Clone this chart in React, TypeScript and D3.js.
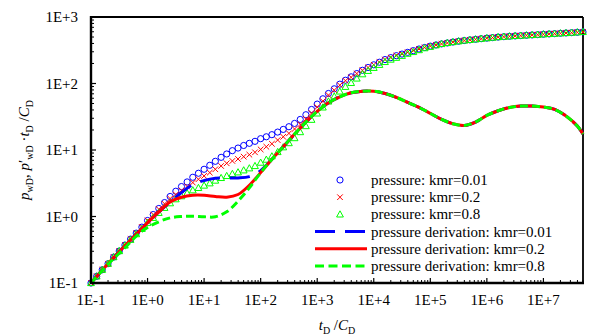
import React from "react";
import * as d3 from "d3";

// ---------- data ----------
const times = [
  0.1, 0.126, 0.158, 0.2, 0.251, 0.316, 0.398, 0.501, 0.631, 0.794,
  1, 1.26, 1.58, 2, 2.51, 3.16, 3.98, 5.01, 6.31, 7.94,
  10, 12.6, 15.8, 20, 25.1, 31.6, 39.8, 50.1, 63.1, 79.4,
  100, 126, 158, 200, 251, 316, 398, 501, 631, 794,
  1000, 1260, 1580, 2000, 2510, 3160, 3980, 5010, 6310, 7940,
  1e4, 1.26e4, 1.58e4, 2e4, 2.51e4, 3.16e4, 3.98e4, 5.01e4, 6.31e4, 7.94e4,
  1e5, 1.26e5, 1.58e5, 2e5, 2.51e5, 3.16e5, 3.98e5, 5.01e5, 6.31e5, 7.94e5,
  1e6, 1.26e6, 1.58e6, 2e6, 2.51e6, 3.16e6, 3.98e6, 5.01e6, 6.31e6, 7.94e6,
  1e7, 1.26e7, 1.58e7, 2e7, 2.51e7, 3.16e7, 3.98e7, 5.01e7,
];

const pressureKmr001 = [
  0.1, 0.126, 0.158, 0.195, 0.245, 0.302, 0.372, 0.457, 0.562, 0.692,
  0.871, 1.07, 1.32, 1.62, 2.0, 2.4, 2.82, 3.31, 3.89, 4.47,
  5.13, 5.89, 6.76, 7.76, 8.71, 9.77, 10.7, 11.7, 12.6, 13.5,
  14.8, 15.8, 17.0, 18.6, 20.4, 22.4, 25.1, 28.8, 33.9, 40.7,
  49.0, 58.9, 70.8, 83.2, 97.7, 112, 126, 141, 158, 174,
  191, 209, 229, 245, 262, 277, 294, 312, 330, 348,
  365, 380, 394, 407, 420, 432, 443, 453, 462, 472,
  481, 490, 499, 506, 513, 519, 525, 531, 537, 543,
  550, 556, 562, 569, 575, 582, 589, 596,
];

const pressureKmr02 = [
  0.1, 0.126, 0.158, 0.195, 0.245, 0.302, 0.372, 0.457, 0.562, 0.692,
  0.871, 1.07, 1.29, 1.55, 1.86, 2.14, 2.45, 2.82, 3.24, 3.63,
  4.07, 4.57, 5.13, 5.75, 6.31, 6.84, 7.33, 7.94, 8.51, 9.23,
  10.2, 11.2, 12.4, 14.1, 15.8, 17.8, 20.7, 24.3, 29.2, 35.9,
  44.2, 54.3, 66.8, 79.4, 94.4, 110, 124, 141, 158, 174,
  191, 209, 229, 245, 262, 277, 294, 312, 330, 348,
  365, 380, 394, 407, 420, 432, 443, 453, 462, 472,
  481, 490, 499, 506, 513, 519, 525, 531, 537, 543,
  550, 556, 562, 569, 575, 582, 589, 596,
];

const pressureKmr08 = [
  0.1, 0.126, 0.158, 0.195, 0.245, 0.302, 0.367, 0.447, 0.543, 0.653,
  0.804, 0.955, 1.135, 1.35, 1.585, 1.82, 2.02, 2.24, 2.48, 2.69,
  2.92, 3.16, 3.47, 3.80, 4.07, 4.37, 4.62, 4.95, 5.31, 5.75,
  6.46, 7.16, 8.04, 9.33, 11.0, 12.7, 15.1, 18.6, 22.9, 28.5,
  35.5, 43.7, 53.7, 63.8, 75.9, 89.1, 102, 119, 138, 155,
  172, 191, 211, 229, 244, 261, 281, 298, 318, 340,
  356, 376, 394, 407, 420, 432, 443, 453, 462, 472,
  481, 490, 499, 506, 513, 519, 525, 531, 537, 543,
  550, 556, 562, 569, 575, 582, 589, 596,
];

const derivTimes = [
  0.1, 0.2, 0.398, 0.794, 1.585, 2.512, 3.981, 6.31, 10, 15.85,
  25.12, 39.81, 63.1, 100, 158.5, 251.2, 398.1, 631, 1000, 1585,
  2512, 3981, 6310, 1e4, 15850, 25120, 39810, 63100, 1e5, 158500,
  251200, 398100, 631000, 1e6, 1585000, 2512000, 3981000, 6310000, 1e7, 15850000,
  25120000, 39810000, 50120000,
];

const derivKmr001 = [
  0.1, 0.195, 0.363, 0.661, 1.17, 1.66, 2.29, 3.02, 3.47, 3.76,
  3.80, 3.80, 3.98, 4.90, 7.24, 11.2, 17.4, 26.3, 38.0, 51.3,
  63.1, 72.4, 76.7, 76.7, 70.8, 61.7, 51.9, 43.7, 35.5, 28.8,
  24.8, 23.4, 26.3, 33.1, 38.9, 43.7, 45.7, 45.7, 44.2, 40.7,
  32.4, 22.9, 17.4,
];

const derivKmr02 = [
  0.1, 0.195, 0.363, 0.661, 1.17, 1.66, 1.95, 2.09, 2.09, 2.0,
  1.95, 2.14, 2.95, 4.57, 7.24, 11.2, 17.4, 26.3, 38.0, 51.3,
  63.1, 72.4, 76.7, 76.7, 70.8, 61.7, 51.9, 43.7, 35.5, 28.8,
  24.8, 23.4, 26.3, 33.1, 38.9, 43.7, 45.7, 45.7, 44.2, 40.7,
  32.4, 22.9, 17.4,
];

const derivKmr08 = [
  0.1, 0.191, 0.339, 0.603, 0.832, 0.955, 1.0, 1.01, 0.99, 0.99,
  1.175, 1.70, 2.69, 4.57, 7.24, 11.2, 17.4, 26.3, 38.0, 51.3,
  63.1, 72.4, 76.7, 76.7, 70.8, 61.7, 51.9, 43.7, 35.5, 28.8,
  24.8, 23.4, 26.3, 33.1, 38.9, 43.7, 45.7, 45.7, 44.2, 40.7,
  32.4, 22.9, 17.4,
];

const xTickValues = [0.1, 1, 10, 100, 1e3, 1e4, 1e5, 1e6, 1e7];
const xTickLabels = ["1E-1", "1E+0", "1E+1", "1E+2", "1E+3", "1E+4", "1E+5", "1E+6", "1E+7"];
const yTickValues = [0.1, 1, 10, 100, 1000];
const yTickLabels = ["1E-1", "1E+0", "1E+1", "1E+2", "1E+3"];

const legendLabels = [
  "pressure: kmr=0.01",
  "pressure: kmr=0.2",
  "pressure: kmr=0.8",
  "pressure derivation: kmr=0.01",
  "pressure derivation: kmr=0.2",
  "pressure derivation: kmr=0.8",
];

// ---------- layout ----------
const W = 600;
const H = 336;
const X0 = 91, X1 = 583, Y0 = 17, Y1 = 283;
const BLUE = "#0000ff";
const RED = "#ff0000";
const GREEN = "#00ff00";
const FONT = '"Liberation Serif", "DejaVu Serif", serif';

const x = d3.scaleLog().domain([0.1, 5.012e7]).range([X0, X1]);
const y = d3.scaleLog().domain([0.1, 1000]).range([Y1, Y0]);

const lineGen = d3
  .line<[number, number]>()
  .x((d) => x(d[0]))
  .y((d) => y(d[1]))
  .curve(d3.curveCatmullRom.alpha(0.5));

const zip = (a: number[], b: number[]) => a.map((t, i) => [t, b[i]] as [number, number]);

const Circle = ({ cx, cy }: { cx: number; cy: number }) => (
  <circle cx={cx} cy={cy} r={3.1} fill="none" stroke={BLUE} strokeWidth={1} />
);
const Cross = ({ cx, cy }: { cx: number; cy: number }) => (
  <path
    d={`M${cx - 2.8},${cy - 2.8}L${cx + 2.8},${cy + 2.8}M${cx - 2.8},${cy + 2.8}L${cx + 2.8},${cy - 2.8}`}
    stroke={RED}
    strokeWidth={1}
    fill="none"
  />
);
const Tri = ({ cx, cy }: { cx: number; cy: number }) => (
  <path
    d={`M${cx},${cy - 3.6}L${cx + 3.4},${cy + 2.6}L${cx - 3.4},${cy + 2.6}Z`}
    stroke={GREEN}
    strokeWidth={1}
    fill="none"
  />
);

const txt = { fontFamily: FONT } as React.CSSProperties;

export default function App() {
  const minorX = x.ticks().filter((t) => !xTickValues.some((v) => Math.abs(v - t) / v < 1e-6));
  const minorY = y.ticks().filter((t) => !yTickValues.some((v) => Math.abs(v - t) / v < 1e-6));

  const legendY = (i: number) => 180 + i * 17.2;

  return (
    <svg
      width={W}
      height={H}
      style={{ position: "absolute", left: 0, top: 0, background: "#fff", fontFamily: FONT }}
    >
      <rect x={0} y={0} width={W} height={H} fill="#fff" />

      {/* plot frame */}
      <line x1={X0} y1={Y0} x2={X1} y2={Y0} stroke="#000" strokeWidth={1.8} />
      <line x1={X1} y1={Y0} x2={X1} y2={Y1} stroke="#000" strokeWidth={1.8} />

      {/* ticks */}
      {xTickValues.map((v) => (
        <line key={"xm" + v} x1={x(v)} x2={x(v)} y1={Y1} y2={Y1 - 5} stroke="#000" strokeWidth={1.2} />
      ))}
      {minorX.map((v) => (
        <line key={"xn" + v} x1={x(v)} x2={x(v)} y1={Y1} y2={Y1 - 3} stroke="#000" strokeWidth={1} />
      ))}
      {yTickValues.map((v) => (
        <line key={"ym" + v} x1={X0} x2={X0 + 5} y1={y(v)} y2={y(v)} stroke="#000" strokeWidth={1.2} />
      ))}
      {minorY.map((v) => (
        <line key={"yn" + v} x1={X0} x2={X0 + 3} y1={y(v)} y2={y(v)} stroke="#000" strokeWidth={1} />
      ))}

      {/* tick labels */}
      {xTickValues.map((v, i) => (
        <text key={"xl" + v} x={x(v)} y={305} textAnchor="middle" fontSize={15} fill="#000" style={txt}>
          {xTickLabels[i]}
        </text>
      ))}
      {yTickValues.map((v, i) => (
        <text key={"yl" + v} x={78} y={y(v) + 5} textAnchor="end" fontSize={15} fill="#000" style={txt}>
          {yTickLabels[i]}
        </text>
      ))}

      {/* axis titles */}
      <text x={337} y={330} textAnchor="middle" fontSize={15} fill="#000" style={txt}>
        <tspan fontStyle="italic">t</tspan>
        <tspan fontSize={10} dy={4}>D</tspan>
        <tspan dy={-4}> /</tspan>
        <tspan fontStyle="italic">C</tspan>
        <tspan fontSize={10} dy={4}>D</tspan>
      </text>
      <text transform="translate(29,150) rotate(-90)" textAnchor="middle" fontSize={15} fill="#000" style={txt}>
        <tspan fontStyle="italic">p</tspan>
        <tspan fontSize={10} dy={4}>wD</tspan>
        <tspan dy={-4}>, </tspan>
        <tspan fontStyle="italic">p</tspan>
        <tspan>′</tspan>
        <tspan fontSize={10} dy={4}>wD</tspan>
        <tspan dy={-4}> ·</tspan>
        <tspan fontStyle="italic">t</tspan>
        <tspan fontSize={10} dy={4}>D</tspan>
        <tspan dy={-4}> /</tspan>
        <tspan fontStyle="italic">C</tspan>
        <tspan fontSize={10} dy={4}>D</tspan>
      </text>

      {/* pressure markers */}
      <g>
        {times.map((t, i) => (
          <Circle key={"c" + i} cx={x(t)} cy={y(pressureKmr001[i])} />
        ))}
      </g>
      <g>
        {times.map((t, i) => (
          <Cross key={"x" + i} cx={x(t)} cy={y(pressureKmr02[i])} />
        ))}
      </g>
      <g>
        {times.map((t, i) => (
          <Tri key={"t" + i} cx={x(t)} cy={y(pressureKmr08[i])} />
        ))}
      </g>

      {/* derivative lines */}
      <path d={lineGen(zip(derivTimes, derivKmr001)) || ""} fill="none" stroke={BLUE} strokeWidth={3} strokeDasharray="20 10" />
      <path d={lineGen(zip(derivTimes, derivKmr02)) || ""} fill="none" stroke={RED} strokeWidth={3} />
      <path d={lineGen(zip(derivTimes, derivKmr08)) || ""} fill="none" stroke={GREEN} strokeWidth={3} strokeDasharray="8 4" />

      {/* axes (left, bottom) */}
      <line x1={X0} y1={Y0 - 1} x2={X0} y2={Y1 + 1} stroke="#000" strokeWidth={2.4} />
      <line x1={X0 - 1} y1={Y1} x2={X1 + 1} y2={Y1} stroke="#000" strokeWidth={2.4} />

      {/* legend */}
      <g>
        <Circle cx={340} cy={legendY(0)} />
        <Cross cx={340} cy={legendY(1)} />
        <Tri cx={340} cy={legendY(2)} />
        <line x1={315} x2={367} y1={legendY(3)} y2={legendY(3)} stroke={BLUE} strokeWidth={3} strokeDasharray="20 10" />
        <line x1={315} x2={367} y1={legendY(4)} y2={legendY(4)} stroke={RED} strokeWidth={3} />
        <line x1={315} x2={367} y1={legendY(5)} y2={legendY(5)} stroke={GREEN} strokeWidth={3} strokeDasharray="9 4.5" />
        {legendLabels.map((l, i) => (
          <text key={l} x={371} y={legendY(i) + 5} fontSize={15} fill="#000" style={txt}>
            {l}
          </text>
        ))}
      </g>
    </svg>
  );
}
